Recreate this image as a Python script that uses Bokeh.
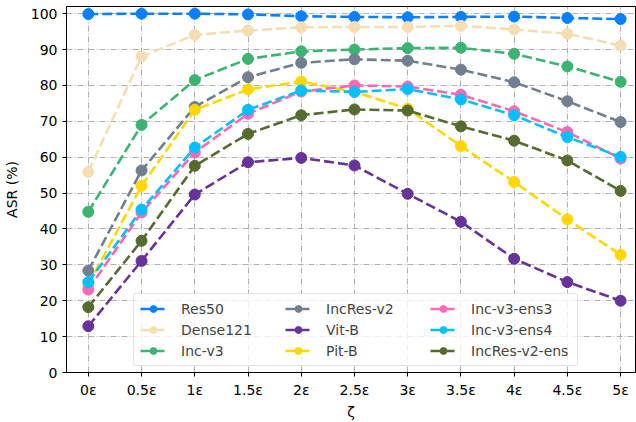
from bokeh.plotting import figure
from bokeh.models import Range1d, FixedTicker, Legend, LegendItem
from bokeh.embed import file_html
from bokeh.resources import INLINE

x_labels = ["0ε", "0.5ε", "1ε", "1.5ε", "2ε", "2.5ε", "3ε", "3.5ε", "4ε", "4.5ε", "5ε"]

res50 = [99.9, 100.0, 100.0, 99.8, 99.3, 99.1, 99.0, 99.1, 99.2, 98.8, 98.5]
dense121 = [55.9, 88.1, 94.1, 95.3, 96.2, 96.3, 96.3, 96.6, 95.6, 94.4, 91.1]
inc_v3 = [44.8, 69.0, 81.5, 87.4, 89.5, 90.0, 90.4, 90.5, 88.8, 85.3, 81.0]
incres_v2 = [28.4, 56.3, 74.0, 82.3, 86.3, 87.3, 86.9, 84.4, 80.9, 75.6, 69.8]
vit_b = [12.9, 31.1, 49.6, 58.6, 59.8, 57.7, 49.8, 42.0, 31.7, 25.2, 20.0]
pit_b = [24.5, 52.0, 73.2, 78.9, 81.1, 78.2, 73.5, 63.1, 53.1, 42.7, 32.8]
inc_v3_ens3 = [23.1, 44.6, 61.3, 72.1, 78.3, 80.0, 79.7, 77.4, 72.8, 67.0, 59.6]
inc_v3_ens4 = [25.2, 45.4, 62.7, 73.2, 78.6, 78.2, 79.0, 76.1, 71.7, 65.6, 60.1]
incres_v2_ens = [18.2, 36.7, 57.6, 66.5, 71.7, 73.3, 73.0, 68.6, 64.6, 59.1, 50.6]

series = [
    ("Res50", res50, "#0A80FF"),
    ("Dense121", dense121, "#F5DEB3"),
    ("Inc-v3", inc_v3, "#3CB371"),
    ("IncRes-v2", incres_v2, "#708090"),
    ("Vit-B", vit_b, "#663399"),
    ("Pit-B", pit_b, "#FFD700"),
    ("Inc-v3-ens3", inc_v3_ens3, "#FF69B4"),
    ("Inc-v3-ens4", inc_v3_ens4, "#00BFFF"),
    ("IncRes-v2-ens", incres_v2_ens, "#556B2F"),
]

xs = list(range(len(x_labels)))

p = figure(width=636, height=422, output_backend="svg", toolbar_location=None,
           x_range=Range1d(-0.41, 10.28), y_range=Range1d(0, 102))
p.min_border_left = 65
p.min_border_right = 1
p.min_border_top = 6
p.min_border_bottom = 49
p.background_fill_color = "white"
p.border_fill_color = "white"
p.outline_line_color = "black"
p.outline_line_width = 1

FONT = "DejaVu Sans"
for ax in (p.xaxis[0], p.yaxis[0]):
    ax.major_label_text_font = FONT
    ax.major_label_text_font_size = "14px"
    ax.major_label_text_color = "black"
    ax.axis_label_text_font = FONT
    ax.axis_label_text_font_size = "14px"
    ax.axis_label_text_font_style = "normal"
    ax.axis_label_text_color = "black"
    ax.major_tick_in = 0
    ax.major_tick_out = 4
    ax.minor_tick_line_color = None
    ax.axis_line_color = "black"
    ax.major_tick_line_color = "black"

p.xaxis.ticker = FixedTicker(ticks=xs)
p.xaxis.major_label_overrides = {i: lab for i, lab in enumerate(x_labels)}
p.xaxis.axis_label = "ζ"
p.xaxis.axis_label_standoff = 3
p.yaxis.ticker = FixedTicker(ticks=list(range(0, 101, 10)))
p.yaxis.axis_label = "ASR (%)"
p.yaxis.axis_label_standoff = 8

for g in (p.xgrid[0], p.ygrid[0]):
    g.grid_line_color = "#b0b0b0"
    g.grid_line_dash = "6 2 1 2"
    g.grid_line_width = 1

items = []
for name, vals, col in series:
    r1 = p.line(xs, vals, line_color=col, line_width=2.6, line_dash="10 4")
    r2 = p.scatter(xs, vals, size=11, fill_color=col, line_color=col)
    items.append(LegendItem(label=name, renderers=[r1, r2]))

legend = Legend(items=items, location=(67, 6), orientation="vertical", nrows=3)
legend.label_text_font = FONT
legend.label_text_font_size = "14px"
legend.glyph_width = 26
legend.glyph_height = 17
legend.label_standoff = 15
legend.label_width = 100
legend.spacing = 4
legend.padding = 6
legend.margin = 0
legend.label_height = 17
legend.border_line_color = "#cccccc"
legend.border_line_width = 1
legend.background_fill_alpha = 0.8
legend.border_radius = 3
p.add_layout(legend, "center")

open("out.html", "w").write(file_html(p, INLINE))
